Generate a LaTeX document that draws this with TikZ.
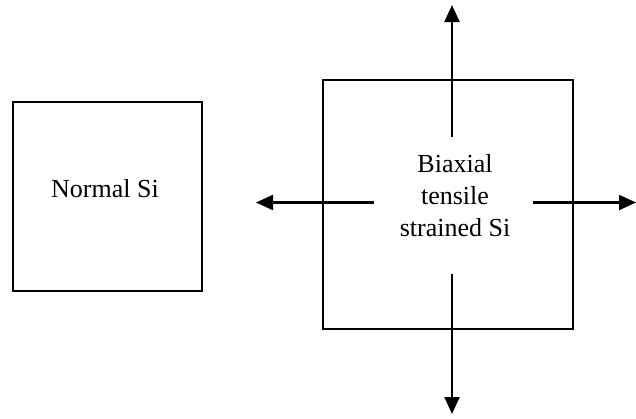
\documentclass[tikz,border=0pt]{standalone}
\usepackage{fontspec}
\setmainfont{Liberation Serif}
\usetikzlibrary{arrows.meta}
\begin{document}
\begin{tikzpicture}[x=1pt,y=-1pt,
  box/.style={draw=black,line width=1.6pt,inner sep=0pt},
  label/.style={font=\fontsize{26}{32}\selectfont,inner sep=0pt,align=center},
  force/.style={line width=2.2pt,-{Triangle[width=15pt,length=17pt]}}]
\useasboundingbox (0,0) rectangle (636,418);
\node[box,minimum width=189pt,minimum height=189pt] (normal) at (107.5,196.5) {};
\node[label] (normaltext) at (105,189) {Normal Si};
\node[box,minimum width=250pt,minimum height=249pt] (strained) at (448,204.5) {};
\node[label] (strainedtext) at (455,196) {Biaxial\\tensile\\strained Si};
\coordinate (upin) at (452,137);
\coordinate (upout) at (452,5);
\coordinate (downin) at (452,274);
\coordinate (downout) at (452,414);
\coordinate (leftin) at (374,202.5);
\coordinate (leftout) at (256,202.5);
\coordinate (rightin) at (533,202.5);
\coordinate (rightout) at (636,202.5);
\draw[force] (upin) -- (upout);
\draw[force] (downin) -- (downout);
\draw[force] (leftin) -- (leftout);
\draw[force] (rightin) -- (rightout);
\end{tikzpicture}
\end{document}
